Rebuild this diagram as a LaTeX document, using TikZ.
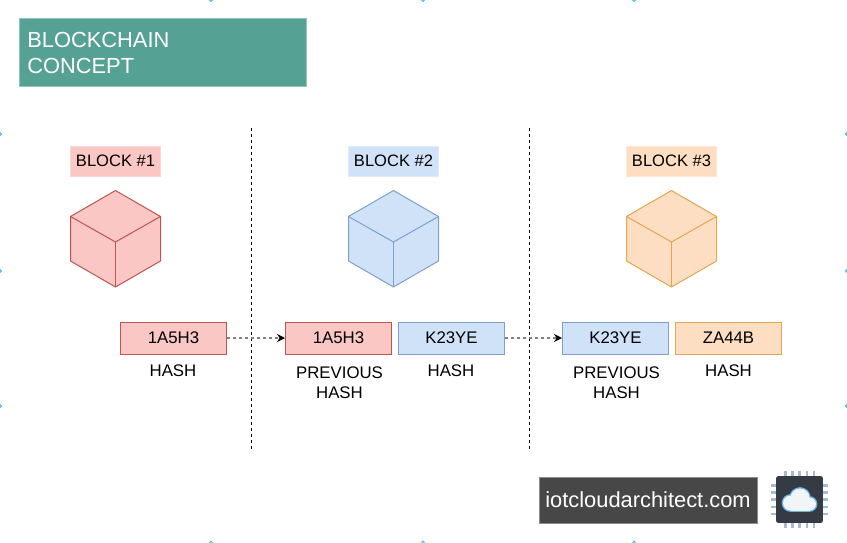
\documentclass[tikz,border=0pt]{standalone}
\usepackage{fontspec}
\setmainfont{Liberation Sans}
\usetikzlibrary{arrows.meta,positioning,calc}
\definecolor{tealfill}{HTML}{55A193}
\definecolor{tealline}{HTML}{93C4BB}
\definecolor{redfill}{HTML}{FAC7C5}
\definecolor{redline}{HTML}{BE5350}
\definecolor{bluefill}{HTML}{D0E2F8}
\definecolor{blueline}{HTML}{7FA0CC}
\definecolor{orangefill}{HTML}{FDDEC2}
\definecolor{orangeline}{HTML}{E0A650}
\definecolor{chipdark}{HTML}{353B45}
\definecolor{chippin}{HTML}{A9BACF}
\definecolor{cloudline}{HTML}{69B3E3}
\definecolor{cloudfill}{HTML}{F2F5F8}
\definecolor{markcyan}{HTML}{29B6F2}
\tikzset{
	hashbox/.style={draw, minimum width=79.5pt, minimum height=24pt, inner sep=0pt, line width=0.75pt, font=\fontsize{12.6}{14}\selectfont},
	redbox/.style={hashbox, fill=redfill, draw=redline},
	bluebox/.style={hashbox, fill=bluefill, draw=blueline},
	orangebox/.style={hashbox, fill=orangefill, draw=orangeline},
	caption/.style={align=center, inner sep=0pt, font=\fontsize{12.6}{15}\selectfont},
	blocktag/.style={minimum width=67.5pt, minimum height=22.5pt, inner sep=0pt, font=\fontsize{12.4}{14}\selectfont},
	link/.style={draw=black!50, line width=1pt, dash pattern=on 2.25pt off 2.25pt, -{Stealth[length=6pt,width=6pt,color=black]}},
	divider/.style={line width=0.75pt, dash pattern=on 2.25pt off 2.25pt},
	pagemark/.style={markcyan, line width=0.6pt}
}
\begin{document}
\begin{tikzpicture}[x=0.75pt, y=-0.75pt]
	\path[use as bounding box] (0,0) rectangle (847,543);
	% title
	\node[fill=tealfill, draw=tealline, line width=0.75pt, minimum width=215pt, minimum height=51pt, inner sep=0pt] (title) at (163.25,52) {};
	\node[anchor=west, text=white, align=left, font=\fontsize{16.4}{19.5}\selectfont, inner sep=0pt] (titletext) at (27,53) {BLOCKCHAIN\\CONCEPT};
	% dividers
	\coordinate (div1top) at (251.5,128);
	\coordinate (div1bot) at (251.5,451);
	\coordinate (div2top) at (529.5,128);
	\coordinate (div2bot) at (529.5,451);
	\draw[divider] (div1top) -- (div1bot);
	\draw[divider] (div2top) -- (div2bot);
	% tags and cubes
	\foreach \name/\cx/\fillcol/\linecol/\label in {b1/115.5/redfill/redline/BLOCK \#1, b2/393.5/bluefill/blueline/BLOCK \#2, b3/671.5/orangefill/orangeline/BLOCK \#3}{
		\node[blocktag, fill=\fillcol, draw=\fillcol!70!white] (\name) at (\cx,161) {\label};
		\begin{scope}[shift={(\cx,0)}, draw=\linecol, line width=0.75pt, line join=round]
			\draw[fill=\fillcol] (0,190.5) -- (45,216.5) -- (45,261) -- (0,287) -- (-45,261) -- (-45,216.5) -- cycle;
			\draw (-45,216.5) -- (0,242) -- (45,216.5);
			\draw (0,242) -- (0,287);
		\end{scope}
	}
	% hash boxes
	\node[redbox] (hash1) at (173.5,338) {1A5H3};
	\node[redbox] (prev2) at (338.5,338) {1A5H3};
	\node[bluebox, right=4.5pt of prev2] (hash2) {K23YE};
	\node[bluebox] (prev3) at (615.5,338) {K23YE};
	\node[orangebox, right=4.5pt of prev3] (hash3) {ZA44B};
	\draw[link] (hash1) -- (prev2);
	\draw[link] (hash2) -- (prev3);
	% captions
	\node[caption] (cap1) at (173,370.5) {HASH};
	\node[caption] (cap2) at (339.5,382.5) {PREVIOUS\\HASH};
	\node[caption] (cap3) at (451,370.5) {HASH};
	\node[caption] (cap4) at (616.5,382.5) {PREVIOUS\\HASH};
	\node[caption] (cap5) at (728.5,370.5) {HASH};
	% site banner
	\node[fill=black!72, draw=black!45, line width=0.5pt, minimum width=163.5pt, minimum height=34.5pt, inner sep=0pt, text=white, font=\fontsize{16.4}{18}\selectfont] (site) at (648,500) {iotcloudarchitect.com};
	% chip logo
	\foreach \p in {0,...,4}{
		\fill[chippin] ({784+7.2*\p},471) rectangle ({786.5+7.2*\p},476);
		\fill[chippin] ({784+7.2*\p},523) rectangle ({786.5+7.2*\p},528);
		\fill[chippin] (771,{484+7.2*\p}) rectangle (776,{486.5+7.2*\p});
		\fill[chippin] (823,{484+7.2*\p}) rectangle (828,{486.5+7.2*\p});
	}
	\node[fill=chipdark, rounded corners=1.5pt, minimum width=35pt, minimum height=35pt, inner sep=0pt] (chip) at (799.5,499.5) {};
	\foreach \c/\r in {{(790.5,503)}/7.5,{(800,498)}/9.5,{(809.5,504)}/6.5}{
		\draw[cloudline, line width=2pt] \c circle (\r);
	}
	\fill[cloudline] (790,505) rectangle (810,511.5);
	\foreach \c/\r in {{(790.5,503)}/7.5,{(800,498)}/9.5,{(809.5,504)}/6.5}{
		\fill[cloudfill] \c circle (\r);
	}
	\fill[cloudfill] (790.5,503) rectangle (809.5,510.5);
	% page marks
	\foreach \mx in {211,423,634}{
		\draw[pagemark] (\mx-1.5,0) -- (\mx,1.5) -- (\mx+1.5,0);
		\draw[pagemark] (\mx-1.5,543) -- (\mx,541) -- (\mx+1.5,543);
	}
	\foreach \my in {134,271,406}{
		\draw[pagemark] (0,\my-1.5) -- (1.5,\my) -- (0,\my+1.5);
		\draw[pagemark] (847,\my-1.5) -- (845.5,\my) -- (847,\my+1.5);
	}
\end{tikzpicture}
\end{document}
